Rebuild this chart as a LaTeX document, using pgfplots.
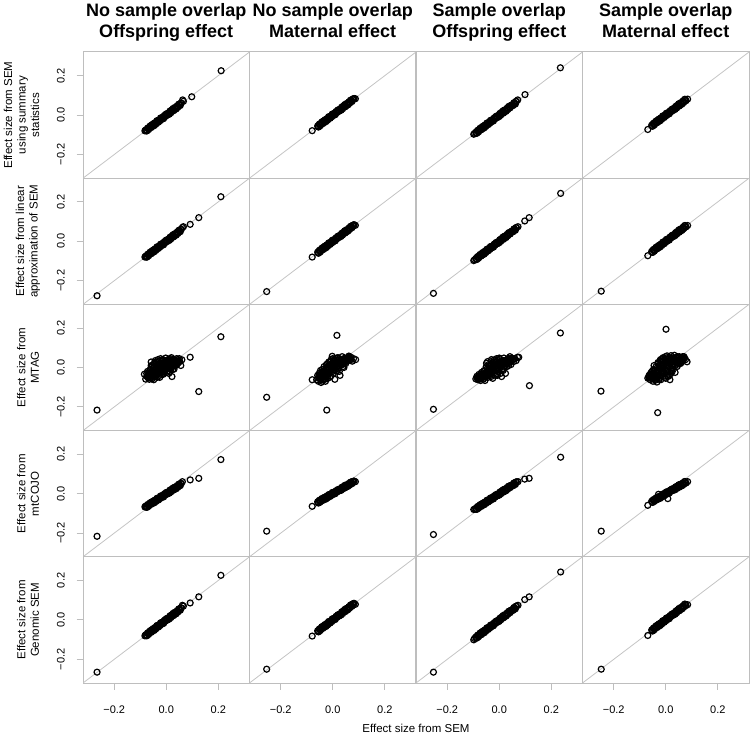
\documentclass[border=0pt]{standalone}
\usepackage{fontspec}
\setmainfont{Liberation Sans}
\usepackage{pgfplots}
\usepackage{pgfplotstable}
\pgfplotsset{compat=1.18}
\definecolor{frame}{HTML}{BEBEBE}
\definecolor{diag}{HTML}{C4C4C4}

% ---------- bands (rows 1, 2, 5) ----------
\pgfplotstableread[row sep=\\]{x y\\
-0.078 -0.075\\ -0.074 -0.080\\ -0.070 -0.065\\ -0.066 -0.068\\ -0.062 -0.055\\ -0.058 -0.063\\ -0.054 -0.053\\ -0.050 -0.044\\ -0.046 -0.053\\ -0.042 -0.038\\ -0.038 -0.041\\ -0.034 -0.028\\ -0.030 -0.036\\ -0.026 -0.024\\ -0.022 -0.015\\ -0.018 -0.022\\ -0.014 -0.011\\ -0.010 -0.017\\ -0.006 -0.001\\ -0.002 -0.004\\ 0.002 0.006\\ 0.006 0.001\\ 0.010 0.010\\ 0.014 0.020\\ 0.018 0.012\\ 0.022 0.025\\ 0.026 0.033\\ 0.030 0.026\\ 0.034 0.036\\ 0.038 0.031\\ 0.042 0.047\\ 0.046 0.043\\ 0.050 0.056\\ 0.054 0.049\\ 0.058 0.061\\
-0.076 -0.080\\ -0.072 -0.067\\ -0.068 -0.074\\ -0.064 -0.061\\ -0.060 -0.062\\ -0.056 -0.050\\ -0.052 -0.057\\ -0.048 -0.046\\ -0.044 -0.040\\ -0.040 -0.046\\ -0.036 -0.029\\ -0.032 -0.035\\ -0.028 -0.027\\ -0.024 -0.029\\ -0.020 -0.015\\ -0.016 -0.017\\ -0.012 -0.018\\ -0.008 -0.004\\ -0.004 -0.007\\ 0.000 0.006\\ 0.004 0.000\\ 0.008 0.010\\ 0.012 0.005\\ 0.016 0.019\\ 0.020 0.025\\ 0.024 0.022\\ 0.028 0.022\\ 0.032 0.038\\ 0.036 0.032\\ 0.040 0.041\\ 0.044 0.039\\ 0.048 0.055\\ 0.052 0.050\\ 0.056 0.060\\
}\bandA
\pgfplotstableread[row sep=\\]{x y\\
-0.058 -0.055\\ -0.054 -0.060\\ -0.050 -0.045\\ -0.046 -0.048\\ -0.042 -0.035\\ -0.038 -0.043\\ -0.034 -0.033\\ -0.030 -0.024\\ -0.026 -0.033\\ -0.022 -0.018\\ -0.018 -0.021\\ -0.014 -0.008\\ -0.010 -0.016\\ -0.006 -0.004\\ -0.002 0.005\\ 0.002 -0.002\\ 0.006 0.009\\ 0.010 0.003\\ 0.014 0.019\\ 0.018 0.016\\ 0.022 0.026\\ 0.026 0.021\\ 0.030 0.030\\ 0.034 0.040\\ 0.038 0.032\\ 0.042 0.045\\ 0.046 0.053\\ 0.050 0.046\\ 0.054 0.056\\ 0.058 0.051\\ 0.062 0.067\\ 0.066 0.063\\ 0.070 0.076\\ 0.074 0.069\\ 0.078 0.081\\ 0.082 0.084\\
-0.056 -0.060\\ -0.052 -0.047\\ -0.048 -0.054\\ -0.044 -0.041\\ -0.040 -0.042\\ -0.036 -0.030\\ -0.032 -0.037\\ -0.028 -0.026\\ -0.024 -0.020\\ -0.020 -0.026\\ -0.016 -0.009\\ -0.012 -0.015\\ -0.008 -0.007\\ -0.004 -0.009\\ 0.000 0.005\\ 0.004 0.003\\ 0.008 0.002\\ 0.012 0.016\\ 0.016 0.013\\ 0.020 0.026\\ 0.024 0.020\\ 0.028 0.030\\ 0.032 0.025\\ 0.036 0.039\\ 0.040 0.045\\ 0.044 0.042\\ 0.048 0.042\\ 0.052 0.058\\ 0.056 0.052\\ 0.060 0.061\\ 0.064 0.059\\ 0.068 0.075\\ 0.072 0.070\\ 0.076 0.080\\ 0.080 0.083\\
}\bandB
\pgfplotstableread[row sep=\\]{x y\\
-0.090 -0.087\\ -0.086 -0.092\\ -0.082 -0.077\\ -0.078 -0.080\\ -0.074 -0.067\\ -0.070 -0.075\\ -0.066 -0.065\\ -0.062 -0.056\\ -0.058 -0.065\\ -0.054 -0.050\\ -0.050 -0.053\\ -0.046 -0.040\\ -0.042 -0.048\\ -0.038 -0.036\\ -0.034 -0.027\\ -0.030 -0.034\\ -0.026 -0.023\\ -0.022 -0.029\\ -0.018 -0.013\\ -0.014 -0.016\\ -0.010 -0.006\\ -0.006 -0.011\\ -0.002 -0.002\\ 0.002 0.008\\ 0.006 0.000\\ 0.010 0.013\\ 0.014 0.021\\ 0.018 0.014\\ 0.022 0.024\\ 0.026 0.019\\ 0.030 0.035\\ 0.034 0.031\\ 0.038 0.044\\ 0.042 0.037\\ 0.046 0.049\\ 0.050 0.052\\ 0.054 0.050\\ 0.058 0.063\\ 0.062 0.056\\ 0.066 0.070\\
-0.088 -0.092\\ -0.084 -0.079\\ -0.080 -0.086\\ -0.076 -0.073\\ -0.072 -0.074\\ -0.068 -0.062\\ -0.064 -0.069\\ -0.060 -0.058\\ -0.056 -0.052\\ -0.052 -0.058\\ -0.048 -0.041\\ -0.044 -0.047\\ -0.040 -0.039\\ -0.036 -0.041\\ -0.032 -0.027\\ -0.028 -0.029\\ -0.024 -0.030\\ -0.020 -0.016\\ -0.016 -0.019\\ -0.012 -0.006\\ -0.008 -0.012\\ -0.004 -0.002\\ 0.000 -0.007\\ 0.004 0.007\\ 0.008 0.013\\ 0.012 0.010\\ 0.016 0.010\\ 0.020 0.026\\ 0.024 0.020\\ 0.028 0.029\\ 0.032 0.027\\ 0.036 0.043\\ 0.040 0.038\\ 0.044 0.048\\ 0.048 0.051\\ 0.052 0.048\\ 0.056 0.062\\ 0.060 0.058\\ 0.064 0.069\\
}\bandC
\pgfplotstableread[row sep=\\]{x y\\
-0.054 -0.051\\ -0.050 -0.056\\ -0.046 -0.041\\ -0.042 -0.044\\ -0.038 -0.031\\ -0.034 -0.039\\ -0.030 -0.029\\ -0.026 -0.020\\ -0.022 -0.029\\ -0.018 -0.014\\ -0.014 -0.017\\ -0.010 -0.004\\ -0.006 -0.012\\ -0.002 0.000\\ 0.002 0.009\\ 0.006 0.002\\ 0.010 0.013\\ 0.014 0.007\\ 0.018 0.023\\ 0.022 0.020\\ 0.026 0.030\\ 0.030 0.025\\ 0.034 0.034\\ 0.038 0.044\\ 0.042 0.036\\ 0.046 0.049\\ 0.050 0.057\\ 0.054 0.050\\ 0.058 0.060\\ 0.062 0.055\\ 0.066 0.071\\ 0.070 0.067\\ 0.074 0.080\\ 0.078 0.073\\
-0.052 -0.056\\ -0.048 -0.043\\ -0.044 -0.050\\ -0.040 -0.037\\ -0.036 -0.038\\ -0.032 -0.026\\ -0.028 -0.033\\ -0.024 -0.022\\ -0.020 -0.016\\ -0.016 -0.022\\ -0.012 -0.005\\ -0.008 -0.011\\ -0.004 -0.003\\ 0.000 -0.005\\ 0.004 0.009\\ 0.008 0.007\\ 0.012 0.006\\ 0.016 0.020\\ 0.020 0.017\\ 0.024 0.030\\ 0.028 0.024\\ 0.032 0.034\\ 0.036 0.029\\ 0.040 0.043\\ 0.044 0.049\\ 0.048 0.046\\ 0.052 0.046\\ 0.056 0.062\\ 0.060 0.056\\ 0.064 0.065\\ 0.068 0.063\\ 0.072 0.079\\ 0.076 0.074\\
}\bandD

% ---------- extra points, rows 1, 2, 5 ----------
\pgfplotstableread[row sep=\\]{x y\\ -0.082 -0.080\\ -0.080 -0.077\\ 0.063 0.077\\ 0.066 0.070\\ 0.098 0.093\\ 0.211 0.225\\}\xAa
\pgfplotstableread[row sep=\\]{x y\\ -0.082 -0.080\\ -0.080 -0.077\\ 0.062 0.070\\ 0.066 0.074\\ 0.092 0.086\\ 0.125 0.120\\ 0.210 0.226\\ -0.266 -0.276\\}\xBa
\pgfplotstableread[row sep=\\]{x y\\ -0.082 -0.081\\ -0.080 -0.077\\ 0.062 0.074\\ 0.066 0.070\\ 0.092 0.086\\ 0.125 0.117\\ 0.210 0.226\\ -0.266 -0.265\\}\xEa
\pgfplotstableread[row sep=\\]{x y\\ -0.079 -0.079\\ 0.087 0.083\\}\xAb
\pgfplotstableread[row sep=\\]{x y\\ -0.079 -0.080\\ 0.087 0.081\\ -0.254 -0.255\\}\xBb
\pgfplotstableread[row sep=\\]{x y\\ -0.079 -0.082\\ 0.087 0.079\\ -0.254 -0.250\\}\xEb
\pgfplotstableread[row sep=\\]{x y\\ -0.098 -0.097\\ -0.095 -0.093\\ -0.070 -0.072\\ 0.071 0.077\\ 0.099 0.104\\ 0.235 0.240\\}\xAc
\pgfplotstableread[row sep=\\]{x y\\ -0.098 -0.098\\ -0.095 -0.094\\ -0.070 -0.073\\ 0.072 0.074\\ 0.098 0.103\\ 0.115 0.120\\ 0.236 0.243\\ -0.253 -0.264\\}\xBc
\pgfplotstableread[row sep=\\]{x y\\ -0.098 -0.101\\ -0.095 -0.094\\ -0.070 -0.075\\ 0.072 0.074\\ 0.098 0.103\\ 0.115 0.117\\ 0.236 0.243\\ -0.253 -0.265\\}\xEc
\pgfplotstableread[row sep=\\]{x y\\ -0.069 -0.073\\ 0.084 0.081\\}\xAd
\pgfplotstableread[row sep=\\]{x y\\ -0.069 -0.073\\ 0.084 0.080\\ -0.248 -0.253\\}\xBd
\pgfplotstableread[row sep=\\]{x y\\ -0.069 -0.079\\ 0.084 0.077\\ -0.248 -0.250\\}\xEd

% ---------- MTAG (row 3) ----------
\pgfplotstableread[row sep=\\]{x y\\
-0.084 -0.034\\ -0.079 -0.059\\ -0.075 -0.045\\ -0.072 -0.020\\ -0.070 -0.052\\ -0.068 -0.030\\ -0.065 -0.060\\ -0.062 -0.010\\ -0.060 -0.040\\ -0.058 0.028\\ -0.056 -0.025\\ -0.054 -0.050\\ -0.052 0.010\\ -0.050 -0.035\\ -0.048 -0.062\\ -0.046 0.015\\ -0.044 -0.015\\ -0.042 0.035\\ -0.040 -0.045\\ -0.038 0.000\\ -0.036 0.025\\ -0.034 -0.028\\ -0.032 0.040\\ -0.030 -0.010\\ -0.028 0.020\\ -0.026 -0.040\\ -0.024 0.005\\ -0.022 0.045\\ -0.020 -0.020\\ -0.018 0.030\\ -0.016 -0.005\\ -0.014 0.010\\ -0.012 -0.035\\ -0.010 0.038\\ -0.008 0.000\\ -0.006 0.022\\ -0.004 -0.015\\ -0.002 0.048\\ 0.000 0.008\\ 0.002 -0.025\\ 0.004 0.030\\ 0.006 0.015\\ 0.008 -0.005\\ 0.010 0.042\\ 0.012 0.020\\ 0.014 -0.020\\ 0.016 0.035\\ 0.018 0.005\\ 0.020 0.050\\ 0.022 -0.046\\ 0.024 0.025\\ 0.026 0.012\\ 0.028 0.040\\ 0.030 -0.008\\ 0.033 0.030\\ 0.036 0.018\\ 0.040 0.045\\ 0.044 0.022\\ 0.048 0.035\\ 0.052 0.030\\ 0.056 0.010\\ 0.060 0.039\\
-0.070 -0.040\\ -0.066 -0.045\\ -0.063 -0.028\\ -0.059 -0.052\\ -0.055 -0.036\\ -0.051 -0.020\\ -0.047 -0.042\\ -0.043 -0.028\\ -0.039 -0.012\\ -0.035 -0.035\\ -0.031 -0.020\\ -0.027 0.002\\ -0.023 -0.025\\ -0.019 0.012\\ -0.015 -0.012\\ -0.011 0.020\\ -0.007 -0.022\\ -0.003 0.012\\ 0.001 -0.008\\ 0.005 0.025\\ 0.009 0.002\\ 0.013 0.030\\ 0.017 -0.010\\ 0.021 0.015\\ 0.025 0.035\\ 0.029 0.020\\ 0.033 0.008\\ 0.037 0.030\\ 0.041 0.015\\ 0.045 0.040\\ -0.045 0.025\\ -0.030 0.030\\ -0.015 0.040\\ 0.000 0.035\\ 0.015 0.045\\ -0.060 -0.015\\ -0.040 -0.030\\ -0.020 0.000\\ 0.000 0.020\\ 0.020 0.030\\ 0.040 0.032\\ -0.010 -0.030\\ 0.010 -0.030\\ -0.025 -0.050\\
-0.068 -0.048\\ -0.064 -0.036\\ -0.061 -0.045\\ -0.057 -0.030\\ -0.053 -0.042\\ -0.049 -0.026\\ -0.045 -0.036\\ -0.041 -0.020\\ -0.037 -0.030\\ -0.033 -0.012\\ -0.029 -0.025\\ -0.025 -0.008\\ -0.021 -0.018\\ -0.017 0.002\\ -0.013 -0.010\\ -0.009 0.008\\ -0.005 -0.004\\ -0.001 0.015\\ 0.003 0.004\\ 0.007 0.020\\ 0.011 0.010\\ 0.015 0.025\\ 0.019 0.015\\ 0.023 0.005\\ 0.027 0.028\\ 0.031 0.038\\ 0.035 0.025\\ 0.039 0.020\\ 0.043 0.030\\ 0.047 0.025\\ -0.050 -0.005\\ -0.035 0.010\\ -0.020 0.020\\ -0.005 0.028\\ 0.010 0.035\\ -0.055 -0.058\\ -0.035 -0.050\\ -0.015 -0.030\\ 0.005 -0.018\\ 0.025 -0.010\\ -0.075 -0.030\\ -0.058 0.010\\ 0.050 0.045\\
-0.266 -0.216\\ 0.210 0.156\\ 0.125 -0.122\\ 0.092 0.052\\
}\mtagA
\pgfplotstableread[row sep=\\]{x y\\
-0.062 -0.062\\ -0.058 -0.040\\ -0.055 -0.070\\ -0.052 -0.030\\ -0.050 -0.055\\ -0.047 -0.015\\ -0.045 -0.076\\ -0.042 -0.040\\ -0.040 -0.010\\ -0.038 -0.060\\ -0.035 -0.025\\ -0.033 0.005\\ -0.030 -0.045\\ -0.028 -0.070\\ -0.026 -0.012\\ -0.024 0.015\\ -0.022 -0.035\\ -0.020 -0.055\\ -0.018 0.000\\ -0.015 0.028\\ -0.013 -0.022\\ -0.010 0.010\\ -0.008 -0.045\\ -0.006 0.040\\ -0.004 -0.008\\ -0.002 0.057\\ 0.000 0.018\\ 0.002 -0.030\\ 0.004 0.030\\ 0.006 0.002\\ 0.008 -0.060\\ 0.010 0.045\\ 0.012 0.012\\ 0.015 -0.018\\ 0.018 0.035\\ 0.020 0.050\\ 0.022 0.000\\ 0.025 0.025\\ 0.028 -0.040\\ 0.030 0.040\\ 0.033 0.015\\ 0.036 0.055\\ 0.040 0.030\\ 0.043 0.000\\ 0.046 0.045\\ 0.050 0.020\\ 0.054 0.050\\ 0.058 0.035\\ 0.062 0.058\\ 0.066 0.040\\ 0.070 0.052\\ 0.075 0.032\\ 0.080 0.045\\ 0.088 0.040\\
-0.055 -0.048\\ -0.050 -0.038\\ -0.046 -0.050\\ -0.042 -0.028\\ -0.038 -0.040\\ -0.034 -0.018\\ -0.030 -0.030\\ -0.026 -0.040\\ -0.022 -0.010\\ -0.018 -0.025\\ -0.014 0.002\\ -0.010 -0.015\\ -0.006 0.015\\ -0.002 -0.005\\ 0.002 0.020\\ 0.006 0.030\\ 0.010 -0.010\\ 0.014 0.025\\ 0.018 0.010\\ 0.022 0.038\\ 0.026 0.010\\ 0.030 0.028\\ 0.034 0.040\\ 0.038 0.015\\ 0.042 0.045\\ 0.046 0.030\\ 0.050 0.040\\ 0.054 0.032\\ 0.058 0.048\\ 0.062 0.042\\ -0.020 0.020\\ -0.030 -0.060\\ -0.012 -0.050\\ 0.000 0.045\\ 0.016 0.048\\ -0.040 -0.070\\ 0.025 -0.020\\ -0.045 -0.062\\
-0.053 -0.055\\ -0.049 -0.045\\ -0.045 -0.040\\ -0.041 -0.050\\ -0.037 -0.030\\ -0.033 -0.038\\ -0.029 -0.020\\ -0.025 -0.028\\ -0.021 -0.045\\ -0.017 -0.012\\ -0.013 -0.005\\ -0.009 -0.025\\ -0.005 0.000\\ -0.001 0.008\\ 0.003 -0.012\\ 0.007 0.012\\ 0.011 0.022\\ 0.015 0.005\\ 0.019 0.022\\ 0.023 0.030\\ 0.027 0.018\\ 0.031 0.032\\ 0.035 0.025\\ 0.039 0.040\\ 0.043 0.028\\ 0.047 0.038\\ 0.051 0.030\\ 0.055 0.045\\ 0.060 0.050\\ 0.065 0.048\\ -0.010 0.028\\ 0.005 0.040\\ -0.035 -0.058\\ -0.020 -0.035\\ 0.000 -0.020\\ 0.020 -0.008\\ 0.040 0.005\\ -0.040 -0.020\\ -0.025 0.000\\ 0.070 0.040\\
-0.254 -0.151\\ 0.016 0.163\\ -0.023 -0.216\\ -0.079 -0.062\\
}\mtagB
\pgfplotstableread[row sep=\\]{x y\\
-0.090 -0.058\\ -0.086 -0.045\\ -0.082 -0.062\\ -0.078 -0.035\\ -0.075 -0.050\\ -0.072 -0.066\\ -0.068 -0.025\\ -0.065 -0.045\\ -0.062 -0.060\\ -0.058 -0.015\\ -0.055 -0.066\\ -0.052 -0.035\\ -0.049 0.022\\ -0.046 -0.005\\ -0.043 -0.050\\ -0.040 -0.020\\ -0.037 0.010\\ -0.034 -0.040\\ -0.031 0.030\\ -0.028 -0.010\\ -0.025 -0.055\\ -0.022 0.020\\ -0.019 0.039\\ -0.016 -0.025\\ -0.013 0.005\\ -0.010 0.045\\ -0.007 -0.040\\ -0.004 0.025\\ -0.001 -0.010\\ 0.002 0.040\\ 0.005 0.012\\ 0.009 -0.046\\ 0.012 0.030\\ 0.015 -0.015\\ 0.018 0.048\\ 0.021 0.020\\ 0.024 -0.030\\ 0.027 0.035\\ 0.030 0.005\\ 0.034 0.045\\ 0.038 0.025\\ 0.041 0.055\\ 0.045 0.015\\ 0.050 0.040\\ 0.055 0.030\\ 0.060 0.045\\ 0.065 0.035\\ 0.070 0.052\\ 0.075 0.052\\
-0.085 -0.052\\ -0.080 -0.048\\ -0.076 -0.058\\ -0.072 -0.040\\ -0.068 -0.052\\ -0.064 -0.032\\ -0.060 -0.045\\ -0.056 -0.030\\ -0.052 -0.050\\ -0.048 -0.022\\ -0.044 -0.035\\ -0.040 -0.005\\ -0.036 -0.025\\ -0.032 0.012\\ -0.028 -0.030\\ -0.024 0.002\\ -0.020 -0.015\\ -0.016 0.025\\ -0.012 -0.005\\ -0.008 0.010\\ -0.004 -0.020\\ 0.000 0.022\\ 0.004 0.000\\ 0.008 0.030\\ 0.012 0.010\\ 0.016 0.035\\ 0.020 0.005\\ 0.024 0.028\\ 0.028 0.018\\ 0.032 0.038\\ 0.036 0.010\\ 0.040 0.035\\ 0.045 0.045\\ -0.030 0.040\\ -0.045 0.030\\ 0.000 0.048\\ -0.015 -0.040\\ 0.005 -0.030\\
-0.083 -0.055\\ -0.079 -0.060\\ -0.074 -0.045\\ -0.070 -0.055\\ -0.066 -0.040\\ -0.062 -0.050\\ -0.058 -0.035\\ -0.054 -0.045\\ -0.050 -0.028\\ -0.046 -0.040\\ -0.042 -0.020\\ -0.038 -0.032\\ -0.034 -0.012\\ -0.030 -0.022\\ -0.026 -0.005\\ -0.022 -0.015\\ -0.018 0.005\\ -0.014 -0.008\\ -0.010 0.012\\ -0.006 0.000\\ -0.002 0.018\\ 0.002 0.008\\ 0.006 0.024\\ 0.010 0.015\\ 0.014 0.028\\ 0.018 0.020\\ 0.022 0.035\\ 0.026 0.022\\ 0.030 0.040\\ 0.034 0.030\\ 0.038 0.042\\ 0.042 0.030\\ 0.048 0.048\\ 0.054 0.042\\ -0.040 0.015\\ -0.025 0.025\\ -0.010 0.032\\ -0.060 -0.020\\ -0.030 -0.045\\ -0.010 -0.030\\ 0.010 -0.012\\ 0.030 0.015\\ -0.050 0.005\\
-0.253 -0.212\\ 0.235 0.175\\ 0.116 -0.092\\
}\mtagC
\pgfplotstableread[row sep=\\]{x y\\
-0.069 -0.054\\ -0.064 -0.040\\ -0.060 -0.062\\ -0.056 -0.025\\ -0.052 -0.048\\ -0.049 -0.070\\ -0.046 -0.010\\ -0.043 -0.035\\ -0.040 -0.060\\ -0.037 0.005\\ -0.034 -0.074\\ -0.031 -0.020\\ -0.028 0.020\\ -0.025 -0.045\\ -0.022 0.035\\ -0.019 -0.062\\ -0.016 -0.005\\ -0.013 0.045\\ -0.010 -0.030\\ -0.007 0.015\\ -0.004 -0.050\\ -0.001 0.055\\ 0.002 0.000\\ 0.005 0.059\\ 0.008 -0.020\\ 0.011 0.030\\ 0.014 -0.040\\ 0.016 -0.062\\ 0.019 0.045\\ 0.022 0.010\\ 0.025 -0.010\\ 0.028 0.038\\ 0.031 0.020\\ 0.033 0.062\\ 0.036 -0.025\\ 0.040 0.050\\ 0.044 0.005\\ 0.048 0.035\\ 0.052 0.055\\ 0.056 0.020\\ 0.060 0.045\\ 0.064 0.035\\ 0.070 0.055\\ 0.076 0.040\\ 0.082 0.029\\
-0.065 -0.050\\ -0.060 -0.035\\ -0.056 -0.055\\ -0.052 -0.020\\ -0.048 -0.040\\ -0.044 -0.055\\ -0.040 -0.015\\ -0.036 -0.040\\ -0.032 0.000\\ -0.028 -0.030\\ -0.024 0.010\\ -0.020 -0.040\\ -0.016 0.025\\ -0.012 -0.015\\ -0.008 0.035\\ -0.004 -0.030\\ 0.000 0.020\\ 0.004 -0.005\\ 0.008 0.040\\ 0.012 0.010\\ 0.016 0.050\\ 0.020 -0.030\\ 0.024 0.030\\ 0.028 0.000\\ 0.032 0.045\\ 0.036 0.015\\ 0.040 0.030\\ 0.044 0.055\\ 0.048 0.020\\ 0.052 0.040\\ 0.058 0.030\\ 0.062 0.050\\ 0.068 0.040\\ -0.010 0.050\\ 0.000 -0.055\\ -0.025 -0.060\\ 0.010 -0.045\\ -0.045 0.010\\
-0.063 -0.045\\ -0.058 -0.048\\ -0.054 -0.035\\ -0.050 -0.055\\ -0.046 -0.030\\ -0.042 -0.045\\ -0.038 -0.025\\ -0.034 -0.050\\ -0.030 -0.010\\ -0.026 -0.020\\ -0.022 -0.050\\ -0.018 0.005\\ -0.014 -0.025\\ -0.010 0.010\\ -0.006 -0.010\\ -0.002 0.030\\ 0.002 -0.020\\ 0.006 0.015\\ 0.010 0.045\\ 0.014 0.020\\ 0.018 -0.005\\ 0.022 0.040\\ 0.026 0.015\\ 0.030 0.050\\ 0.034 0.030\\ 0.038 0.010\\ 0.042 0.040\\ 0.046 0.025\\ 0.050 0.050\\ 0.055 0.035\\ 0.060 0.025\\ 0.065 0.055\\ 0.072 0.048\\ -0.020 0.040\\ -0.030 0.025\\ 0.000 0.045\\ -0.040 -0.065\\ -0.010 -0.045\\ 0.020 0.060\\ -0.050 -0.015\\ 0.005 -0.040\\ 0.025 -0.020\\
0.001 0.194\\ -0.031 -0.229\\ -0.249 -0.120\\
}\mtagD

% ---------- mtCOJO (row 4) ----------
\pgfplotstableread[row sep=\\]{x y\\
-0.078 -0.063\\ -0.074 -0.069\\ -0.070 -0.055\\ -0.066 -0.058\\ -0.062 -0.046\\ -0.058 -0.054\\ -0.054 -0.045\\ -0.050 -0.037\\ -0.046 -0.046\\ -0.042 -0.032\\ -0.038 -0.035\\ -0.034 -0.023\\ -0.030 -0.032\\ -0.026 -0.020\\ -0.022 -0.012\\ -0.018 -0.019\\ -0.014 -0.009\\ -0.010 -0.016\\ -0.006 0.000\\ -0.002 -0.004\\ 0.002 0.006\\ 0.006 0.000\\ 0.010 0.009\\ 0.014 0.018\\ 0.018 0.009\\ 0.022 0.022\\ 0.026 0.029\\ 0.030 0.022\\ 0.034 0.031\\ 0.038 0.025\\ 0.042 0.041\\ 0.046 0.036\\ 0.050 0.049\\ 0.054 0.041\\ 0.058 0.052\\
-0.076 -0.069\\ -0.072 -0.056\\ -0.068 -0.064\\ -0.064 -0.051\\ -0.060 -0.053\\ -0.056 -0.042\\ -0.052 -0.049\\ -0.048 -0.039\\ -0.044 -0.033\\ -0.040 -0.040\\ -0.036 -0.024\\ -0.032 -0.030\\ -0.028 -0.023\\ -0.024 -0.025\\ -0.020 -0.012\\ -0.016 -0.015\\ -0.012 -0.016\\ -0.008 -0.003\\ -0.004 -0.006\\ 0.000 0.006\\ 0.004 -0.001\\ 0.008 0.009\\ 0.012 0.003\\ 0.016 0.017\\ 0.020 0.022\\ 0.024 0.018\\ 0.028 0.018\\ 0.032 0.033\\ 0.036 0.027\\ 0.040 0.035\\ 0.044 0.032\\ 0.048 0.048\\ 0.052 0.042\\ 0.056 0.052\\
-0.082 -0.067\\ -0.080 -0.064\\ 0.062 0.061\\ 0.092 0.070\\ 0.125 0.078\\ 0.210 0.173\\ -0.266 -0.216\\
}\cojoA
\pgfplotstableread[row sep=\\]{x y\\
-0.058 -0.041\\ -0.054 -0.047\\ -0.050 -0.033\\ -0.046 -0.037\\ -0.042 -0.025\\ -0.038 -0.034\\ -0.034 -0.025\\ -0.030 -0.017\\ -0.026 -0.027\\ -0.022 -0.013\\ -0.018 -0.017\\ -0.014 -0.005\\ -0.010 -0.014\\ -0.006 -0.003\\ -0.002 0.006\\ 0.002 -0.003\\ 0.006 0.008\\ 0.010 0.001\\ 0.014 0.016\\ 0.018 0.012\\ 0.022 0.021\\ 0.026 0.015\\ 0.030 0.023\\ 0.034 0.032\\ 0.038 0.023\\ 0.042 0.035\\ 0.046 0.042\\ 0.050 0.034\\ 0.054 0.043\\ 0.058 0.037\\ 0.062 0.052\\ 0.066 0.047\\ 0.070 0.059\\ 0.074 0.051\\ 0.078 0.062\\ 0.082 0.064\\
-0.056 -0.046\\ -0.052 -0.034\\ -0.048 -0.042\\ -0.044 -0.030\\ -0.040 -0.032\\ -0.036 -0.021\\ -0.032 -0.029\\ -0.028 -0.019\\ -0.024 -0.014\\ -0.020 -0.021\\ -0.016 -0.005\\ -0.012 -0.012\\ -0.008 -0.005\\ -0.004 -0.008\\ 0.000 0.005\\ 0.004 0.002\\ 0.008 0.000\\ 0.012 0.013\\ 0.016 0.009\\ 0.020 0.021\\ 0.024 0.014\\ 0.028 0.023\\ 0.032 0.017\\ 0.036 0.030\\ 0.040 0.035\\ 0.044 0.031\\ 0.048 0.030\\ 0.052 0.045\\ 0.056 0.038\\ 0.060 0.046\\ 0.064 0.043\\ 0.068 0.058\\ 0.072 0.052\\ 0.076 0.061\\ 0.080 0.063\\
-0.079 -0.064\\ 0.087 0.061\\ -0.254 -0.190\\
}\cojoB
\pgfplotstableread[row sep=\\]{x y\\
-0.090 -0.074\\ -0.086 -0.079\\ -0.082 -0.065\\ -0.078 -0.068\\ -0.074 -0.056\\ -0.070 -0.065\\ -0.066 -0.055\\ -0.062 -0.047\\ -0.058 -0.056\\ -0.054 -0.042\\ -0.050 -0.046\\ -0.046 -0.033\\ -0.042 -0.042\\ -0.038 -0.030\\ -0.034 -0.022\\ -0.030 -0.030\\ -0.026 -0.019\\ -0.022 -0.026\\ -0.018 -0.010\\ -0.014 -0.014\\ -0.010 -0.005\\ -0.006 -0.010\\ -0.002 -0.002\\ 0.002 0.008\\ 0.006 -0.001\\ 0.010 0.012\\ 0.014 0.019\\ 0.018 0.011\\ 0.022 0.021\\ 0.026 0.015\\ 0.030 0.031\\ 0.034 0.026\\ 0.038 0.038\\ 0.042 0.031\\ 0.046 0.042\\ 0.050 0.045\\ 0.054 0.042\\ 0.058 0.054\\ 0.062 0.047\\ 0.066 0.060\\
-0.088 -0.079\\ -0.084 -0.066\\ -0.080 -0.074\\ -0.076 -0.062\\ -0.072 -0.063\\ -0.068 -0.052\\ -0.064 -0.059\\ -0.060 -0.049\\ -0.056 -0.044\\ -0.052 -0.050\\ -0.048 -0.034\\ -0.044 -0.040\\ -0.040 -0.033\\ -0.036 -0.036\\ -0.032 -0.022\\ -0.028 -0.025\\ -0.024 -0.026\\ -0.020 -0.013\\ -0.016 -0.017\\ -0.012 -0.004\\ -0.008 -0.011\\ -0.004 -0.001\\ 0.000 -0.007\\ 0.004 0.006\\ 0.008 0.012\\ 0.012 0.008\\ 0.016 0.008\\ 0.020 0.023\\ 0.024 0.016\\ 0.028 0.025\\ 0.032 0.022\\ 0.036 0.038\\ 0.040 0.032\\ 0.044 0.041\\ 0.048 0.044\\ 0.052 0.040\\ 0.056 0.054\\ 0.060 0.049\\ 0.064 0.059\\
-0.098 -0.080\\ -0.094 -0.079\\ 0.072 0.061\\ 0.098 0.074\\ 0.115 0.078\\ 0.236 0.185\\ -0.253 -0.207\\
}\cojoC
\pgfplotstableread[row sep=\\]{x y\\
-0.054 -0.038\\ -0.050 -0.044\\ -0.046 -0.030\\ -0.042 -0.034\\ -0.038 -0.022\\ -0.034 -0.031\\ -0.030 -0.022\\ -0.026 -0.014\\ -0.022 -0.024\\ -0.018 -0.010\\ -0.014 -0.014\\ -0.010 -0.002\\ -0.006 -0.011\\ -0.002 0.001\\ 0.002 0.009\\ 0.006 0.001\\ 0.010 0.011\\ 0.014 0.004\\ 0.018 0.019\\ 0.022 0.015\\ 0.026 0.024\\ 0.030 0.018\\ 0.034 0.026\\ 0.038 0.035\\ 0.042 0.026\\ 0.046 0.038\\ 0.050 0.045\\ 0.054 0.037\\ 0.058 0.046\\ 0.062 0.040\\ 0.066 0.055\\ 0.070 0.050\\ 0.074 0.062\\ 0.078 0.054\\
-0.052 -0.043\\ -0.048 -0.031\\ -0.044 -0.039\\ -0.040 -0.027\\ -0.036 -0.029\\ -0.032 -0.018\\ -0.028 -0.026\\ -0.024 -0.016\\ -0.020 -0.011\\ -0.016 -0.018\\ -0.012 -0.002\\ -0.008 -0.009\\ -0.004 -0.002\\ 0.000 -0.005\\ 0.004 0.008\\ 0.008 0.005\\ 0.012 0.003\\ 0.016 0.016\\ 0.020 0.012\\ 0.024 0.024\\ 0.028 0.017\\ 0.032 0.026\\ 0.036 0.020\\ 0.040 0.033\\ 0.044 0.038\\ 0.048 0.034\\ 0.052 0.033\\ 0.056 0.048\\ 0.060 0.041\\ 0.064 0.049\\ 0.068 0.046\\ 0.072 0.061\\ 0.076 0.055\\
-0.069 -0.059\\ 0.084 0.061\\ -0.028 -0.003\\ 0.008 -0.025\\ -0.248 -0.190\\
}\cojoD

\pgfplotsset{
  panel/.style={
    scale only axis, width=166.5bp, height=126.2bp,
    xmin=-0.32, xmax=0.32, ymin=-0.32, ymax=0.32,
    axis line style={draw=frame, line width=1bp},
    xtick=\empty, ytick=\empty,
    tick align=outside, major tick length=6.5bp,
    every tick/.style={draw=frame, line width=0.9bp},
    anchor=south west,
  },
  leftcol/.style={
    ytick={-0.2,0,0.2}, yticklabels={−0.2,0.0,0.2}, ytick pos=left,
    yticklabel shift=11.5bp,
    yticklabel style={rotate=90, anchor=south, inner sep=0pt, font=\fontsize{11bp}{13bp}\selectfont},
  },
  bottomrow/.style={
    xtick={-0.2,0,0.2}, xticklabels={−0.2,0.0,0.2}, xtick pos=bottom,
    xticklabel shift=16bp,
    xticklabel style={anchor=north, inner sep=0pt, font=\fontsize{11bp}{13bp}\selectfont},
  },
  pts/.style={only marks, mark=o, mark size=3bp, mark options={line width=1.2bp, draw=black}},
  dg/.style={draw=diag, line width=0.8bp, no marks},
}

\begin{document}
\begin{tikzpicture}
\path[use as bounding box] (0,0) rectangle (750bp,736bp);

% ===== Row 1 =====
\begin{axis}[panel, leftcol, at={(83bp,557.8bp)}]
\addplot[pts] table {\bandA}; \addplot[pts] table {\xAa};
\addplot[dg] coordinates {(-0.32,-0.32) (0.32,0.32)};
\end{axis}
\begin{axis}[panel, at={(249.5bp,557.8bp)}]
\addplot[pts] table {\bandB}; \addplot[pts] table {\xAb};
\addplot[dg] coordinates {(-0.32,-0.32) (0.32,0.32)};
\end{axis}
\begin{axis}[panel, at={(416bp,557.8bp)}]
\addplot[pts] table {\bandC}; \addplot[pts] table {\xAc};
\addplot[dg] coordinates {(-0.32,-0.32) (0.32,0.32)};
\end{axis}
\begin{axis}[panel, at={(582.5bp,557.8bp)}]
\addplot[pts] table {\bandD}; \addplot[pts] table {\xAd};
\addplot[dg] coordinates {(-0.32,-0.32) (0.32,0.32)};
\end{axis}

% ===== Row 2 =====
\begin{axis}[panel, leftcol, at={(83bp,431.6bp)}]
\addplot[pts] table {\bandA}; \addplot[pts] table {\xBa};
\addplot[dg] coordinates {(-0.32,-0.32) (0.32,0.32)};
\end{axis}
\begin{axis}[panel, at={(249.5bp,431.6bp)}]
\addplot[pts] table {\bandB}; \addplot[pts] table {\xBb};
\addplot[dg] coordinates {(-0.32,-0.32) (0.32,0.32)};
\end{axis}
\begin{axis}[panel, at={(416bp,431.6bp)}]
\addplot[pts] table {\bandC}; \addplot[pts] table {\xBc};
\addplot[dg] coordinates {(-0.32,-0.32) (0.32,0.32)};
\end{axis}
\begin{axis}[panel, at={(582.5bp,431.6bp)}]
\addplot[pts] table {\bandD}; \addplot[pts] table {\xBd};
\addplot[dg] coordinates {(-0.32,-0.32) (0.32,0.32)};
\end{axis}

% ===== Row 3 (MTAG) =====
\begin{axis}[panel, leftcol, at={(83bp,305.4bp)}]
\addplot[pts] table {\mtagA};
\addplot[dg] coordinates {(-0.32,-0.32) (0.32,0.32)};
\end{axis}
\begin{axis}[panel, at={(249.5bp,305.4bp)}]
\addplot[pts] table {\mtagB};
\addplot[dg] coordinates {(-0.32,-0.32) (0.32,0.32)};
\end{axis}
\begin{axis}[panel, at={(416bp,305.4bp)}]
\addplot[pts] table {\mtagC};
\addplot[dg] coordinates {(-0.32,-0.32) (0.32,0.32)};
\end{axis}
\begin{axis}[panel, at={(582.5bp,305.4bp)}]
\addplot[pts] table {\mtagD};
\addplot[dg] coordinates {(-0.32,-0.32) (0.32,0.32)};
\end{axis}

% ===== Row 4 (mtCOJO) =====
\begin{axis}[panel, leftcol, at={(83bp,179.2bp)}]
\addplot[pts] table {\cojoA};
\addplot[dg] coordinates {(-0.32,-0.32) (0.32,0.32)};
\end{axis}
\begin{axis}[panel, at={(249.5bp,179.2bp)}]
\addplot[pts] table {\cojoB};
\addplot[dg] coordinates {(-0.32,-0.32) (0.32,0.32)};
\end{axis}
\begin{axis}[panel, at={(416bp,179.2bp)}]
\addplot[pts] table {\cojoC};
\addplot[dg] coordinates {(-0.32,-0.32) (0.32,0.32)};
\end{axis}
\begin{axis}[panel, at={(582.5bp,179.2bp)}]
\addplot[pts] table {\cojoD};
\addplot[dg] coordinates {(-0.32,-0.32) (0.32,0.32)};
\end{axis}

% ===== Row 5 (Genomic SEM) =====
\begin{axis}[panel, leftcol, bottomrow, at={(83bp,53bp)}]
\addplot[pts] table {\bandA}; \addplot[pts] table {\xEa};
\addplot[dg] coordinates {(-0.32,-0.32) (0.32,0.32)};
\end{axis}
\begin{axis}[panel, bottomrow, at={(249.5bp,53bp)}]
\addplot[pts] table {\bandB}; \addplot[pts] table {\xEb};
\addplot[dg] coordinates {(-0.32,-0.32) (0.32,0.32)};
\end{axis}
\begin{axis}[panel, bottomrow, at={(416bp,53bp)}]
\addplot[pts] table {\bandC}; \addplot[pts] table {\xEc};
\addplot[dg] coordinates {(-0.32,-0.32) (0.32,0.32)};
\end{axis}
\begin{axis}[panel, bottomrow, at={(582.5bp,53bp)}]
\addplot[pts] table {\bandD}; \addplot[pts] table {\xEd};
\addplot[dg] coordinates {(-0.32,-0.32) (0.32,0.32)};
\end{axis}

% ===== Column titles =====
\begin{scope}[every node/.style={font=\bfseries\fontsize{18bp}{21bp}\selectfont, align=center, anchor=north, inner sep=0pt}]
\node at (166.25bp,733bp) {No sample overlap\\Offspring effect};
\node at (332.75bp,733bp) {No sample overlap\\Maternal effect};
\node at (499.25bp,733bp) {Sample overlap\\Offspring effect};
\node at (665.75bp,733bp) {Sample overlap\\Maternal effect};
\end{scope}

% ===== Row labels =====
\begin{scope}[every node/.style={font=\fontsize{11.5bp}{13.5bp}\selectfont, align=center, rotate=90, inner sep=0pt}]
\node at (21.5bp,620.9bp) {Effect size from SEM\\using summary\\statistics};
\node at (28bp,494.7bp) {Effect size from linear\\approximation of SEM};
\node at (28bp,368.5bp) {Effect size from\\MTAG};
\node at (28bp,242.3bp) {Effect size from\\mtCOJO};
\node at (28bp,116.1bp) {Effect size from\\Genomic SEM};
\end{scope}

% ===== x label =====
\node[font=\fontsize{11.5bp}{13.5bp}\selectfont, anchor=base, inner sep=0pt] at (416bp,4bp) {Effect size from SEM};
\end{tikzpicture}
\end{document}
